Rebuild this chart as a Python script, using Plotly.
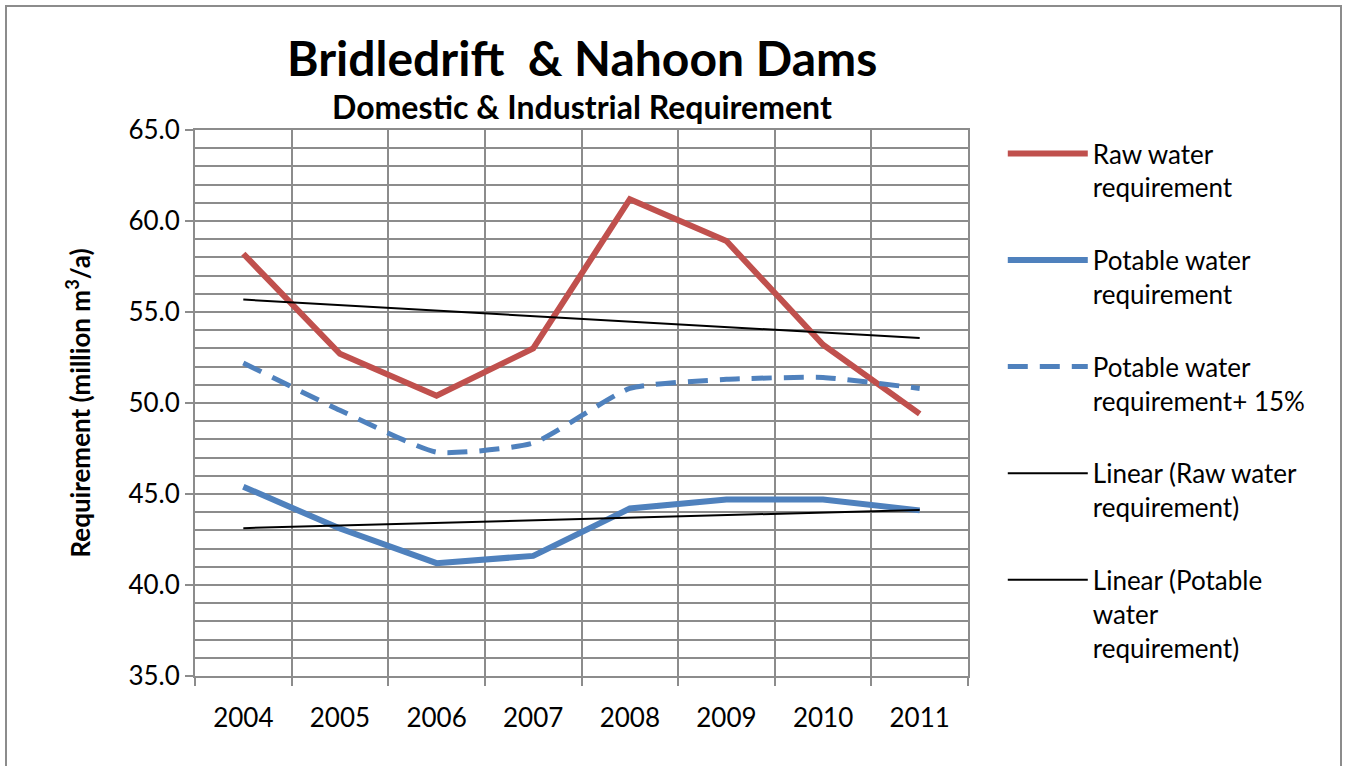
import numpy as np
import plotly.graph_objects as go

years = [2004, 2005, 2006, 2007, 2008, 2009, 2010, 2011]
raw_water = [58.2, 52.7, 50.4, 53.0, 61.2, 58.9, 53.2, 49.4]
potable_water = [45.4, 43.1, 41.2, 41.6, 44.2, 44.7, 44.7, 44.1]
potable_plus_15 = [52.2, 49.6, 47.3, 47.8, 50.8, 51.3, 51.4, 50.8]

names = [
    "Raw water<br>requirement",
    "Potable water<br>requirement",
    "Potable water<br>requirement+ 15%",
    "Linear (Raw water<br>requirement)",
    "Linear (Potable<br>water<br>requirement)",
]

RED = "#C0504D"
BLUE = "#4F81BD"
GRID = "#8C8C8C"
FONT = "Lato"

# least-squares trend lines over the year index
xi = np.arange(len(years))
raw_fit = np.polyval(np.polyfit(xi, raw_water, 1), xi)
pot_fit = np.polyval(np.polyfit(xi, potable_water, 1), xi)

fig = go.Figure()
fig.add_trace(go.Scatter(x=years, y=raw_water, name=names[0], mode="lines",
                         line=dict(color=RED, width=6), legendgroup="a"))
fig.add_trace(go.Scatter(x=years, y=potable_water, name=names[1], mode="lines",
                         line=dict(color=BLUE, width=6), legendgroup="b"))
fig.add_trace(go.Scatter(x=years, y=potable_plus_15, name=names[2], mode="lines",
                         line=dict(color=BLUE, width=5, dash="20px,12px",
                                   shape="spline", smoothing=0.5),
                         legendgroup="c"))
fig.add_trace(go.Scatter(x=years, y=raw_fit, name=names[3], mode="lines",
                         line=dict(color="black", width=2), legendgroup="d"))
fig.add_trace(go.Scatter(x=years, y=pot_fit, name=names[4], mode="lines",
                         line=dict(color="black", width=2), legendgroup="e"))

fig.update_layout(
    width=1346, height=766,
    margin=dict(l=195, r=378, t=130, b=90),
    paper_bgcolor="white", plot_bgcolor="white",
    font=dict(family=FONT, color="black", size=26),
    showlegend=True,
    legend=dict(
        x=1.045, y=1.0, xanchor="left", yanchor="top",
        font=dict(family=FONT, size=26, color="black"),
        valign="top", itemwidth=80, tracegroupgap=36,
        bgcolor="rgba(0,0,0,0)",
    ),
    shapes=[dict(type="rect", xref="paper", yref="paper",
                 x0=(6 - 195) / 773, x1=(1341 - 195) / 773,
                 y0=-0.3, y1=(676 - 6) / 546,
                 line=dict(color="#8C8C8C", width=2), layer="below")],
    annotations=[
        dict(text="<b>Bridledrift  &amp; Nahoon Dams</b>", xref="paper", yref="paper",
             x=0.5, y=(676 - 57) / 546, xanchor="center", yanchor="middle",
             showarrow=False, font=dict(family=FONT, size=48, color="black")),
        dict(text="<b>Domestic &amp; Industrial Requirement</b>", xref="paper", yref="paper",
             x=0.5, y=(676 - 107) / 546, xanchor="center", yanchor="middle",
             showarrow=False, font=dict(family=FONT, size=32, color="black")),
    ],
)

fig.update_xaxes(
    range=[2003.5, 2011.5], tickmode="array", tickvals=years,
    ticktext=[str(y) for y in years], ticks="", showgrid=False,
    tickfont=dict(family=FONT, size=26), ticklabelstandoff=18,
    showline=True, linecolor=GRID, linewidth=2, mirror=True,
    minor=dict(tick0=2003.5, dtick=1, showgrid=True, gridcolor=GRID, gridwidth=2,
               ticks="outside", ticklen=8, tickcolor=GRID, tickwidth=2),
    zeroline=False, fixedrange=True,
)
fig.update_yaxes(
    range=[35, 65], dtick=5, tickformat=".1f", ticks="outside", ticklen=8,
    tickcolor=GRID, tickwidth=2, showgrid=True, gridcolor=GRID, gridwidth=2,
    tickfont=dict(family=FONT, size=26),
    showline=True, linecolor=GRID, linewidth=2, mirror=True,
    minor=dict(dtick=1, showgrid=True, gridcolor=GRID, gridwidth=2),
    title=dict(text="<b>Requirement (million m<sup>3</sup>/a)</b>",
               font=dict(family=FONT, size=26), standoff=30),
    zeroline=False, fixedrange=True,
)

fig.write_html("out.html")
